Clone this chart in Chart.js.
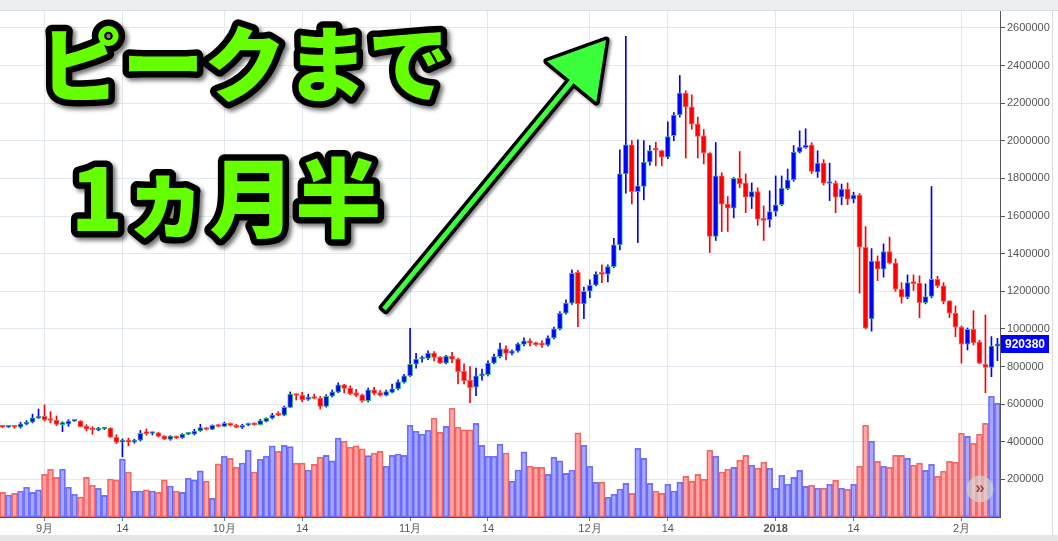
<!DOCTYPE html>
<html><head><meta charset="utf-8">
<script src="https://cdn.jsdelivr.net/npm/chart.js@4.4.1/dist/chart.umd.min.js"></script>
<style>html,body{margin:0;padding:0;background:#fff;overflow:hidden}#wrap{position:relative;width:1058px;height:541px}</style>
</head><body><div id="wrap"><canvas id="c" width="1058" height="541"></canvas></div>
<script>
// Daily candles from 2017-08-25 to 2018-02-07, prices in thousand JPY
const startDate = '2017-08-25';
const open = [482,478,481,478,494,504,526,535,521,514,491,494,509,510,483,468,462,468,473,424,398,401,398,408,446,444,448,430,413,430,420,440,440,457,473,466,489,482,498,488,476,488,498,491,508,525,542,541,583,653,647,625,638,631,588,642,664,703,686,660,650,618,676,661,647,662,681,716,750,812,840,843,871,850,818,855,839,775,727,690,750,757,818,853,894,869,881,918,936,925,920,914,952,1000,1083,1137,1301,1133,1200,1232,1293,1291,1331,1447,1824,1979,1730,1757,1887,1955,1948,1913,2027,2137,2254,2180,2089,2027,1935,1491,1814,1663,1642,1801,1775,1700,1730,1585,1580,1624,1660,1745,1793,1940,1963,1977,1833,1881,1773,1775,1700,1743,1690,1711,1434,1053,1360,1318,1411,1350,1211,1169,1250,1243,1140,1172,1264,1229,1149,1083,1009,919,998,931,812,795,908];
const high = [485,483,486,504,512,547,574,596,560,537,507,517,514,513,491,480,477,476,475,437,415,419,414,460,468,452,450,433,433,431,443,446,466,493,475,490,492,505,500,493,493,500,500,519,528,551,560,590,665,655,663,653,653,640,650,675,713,705,697,679,654,686,690,672,675,707,729,758,1003,870,856,884,879,853,860,876,845,814,800,792,787,830,866,924,910,889,926,952,947,930,936,963,1010,1092,1154,1314,1312,1222,1261,1303,1340,1340,1482,1952,2555,2001,2005,2001,1975,1993,1950,2101,2150,2347,2266,2244,2126,2060,1937,1991,1830,1704,1805,1943,1824,1776,1750,1654,1734,1813,1813,1850,1975,2053,2064,1990,1947,1900,1881,1787,1770,1776,1726,1720,1544,1427,1388,1452,1488,1372,1246,1287,1287,1282,1239,1757,1280,1246,1150,1122,1016,1005,1097,940,1074,959,950];
const low = [475,476,472,472,490,500,524,511,500,486,454,482,508,478,458,440,458,465,422,390,320,378,392,404,435,436,425,411,408,417,418,438,436,455,462,464,479,480,484,474,470,485,488,489,505,521,538,538,581,622,613,620,628,574,584,638,661,660,650,640,610,612,650,643,644,660,676,712,748,791,823,836,830,816,814,820,707,707,608,645,727,750,814,846,835,862,876,910,910,910,902,908,947,995,1078,1130,1012,1055,1166,1228,1246,1250,1325,1420,1722,1665,1459,1686,1870,1867,1867,1905,2000,2126,1908,2062,1908,1877,1406,1470,1517,1518,1590,1750,1618,1640,1550,1470,1541,1600,1655,1740,1785,1935,1960,1826,1805,1765,1682,1618,1660,1660,1670,1190,1000,988,1257,1275,1345,1200,1137,1161,1204,1060,1133,1165,1220,1133,1060,959,818,888,915,815,661,746,831];
const close = [478,481,477,495,504,527,537,516,513,492,494,510,511,480,467,464,469,472,424,396,400,398,408,445,443,448,428,414,430,419,441,443,457,475,465,488,481,498,487,476,487,498,490,512,525,542,540,583,653,646,622,637,630,588,642,665,702,683,656,646,618,676,657,647,667,681,718,750,812,839,845,871,848,818,855,838,773,725,688,750,761,818,853,894,869,883,920,936,924,916,914,952,1000,1083,1137,1296,1133,1200,1232,1292,1290,1331,1447,1824,1979,1730,1760,1887,1948,1950,1913,2023,2137,2254,2180,2089,2023,1935,1491,1814,1663,1642,1801,1771,1700,1730,1583,1577,1624,1660,1748,1793,1940,1967,1977,1837,1881,1775,1777,1700,1743,1690,1711,1434,1004,1360,1318,1411,1350,1211,1169,1246,1241,1140,1172,1264,1229,1146,1083,1009,919,998,927,818,795,908,920.38];
const volume = [131,117,126,138,158,131,144,227,254,211,254,158,121,105,211,169,153,115,202,197,308,239,138,138,144,138,131,197,165,138,131,206,197,245,191,99,282,323,312,264,287,355,239,307,324,378,349,381,374,286,286,250,280,318,328,298,419,403,371,378,363,326,339,349,270,328,335,328,488,456,440,461,525,450,482,578,477,463,463,498,381,323,323,387,340,191,250,346,270,264,264,227,318,298,232,250,447,381,270,185,185,105,121,149,179,126,365,312,179,138,126,174,138,185,216,191,227,200,355,323,239,254,264,303,328,275,259,291,259,153,222,174,211,248,163,169,153,153,174,195,153,147,174,270,488,403,296,270,264,328,328,312,275,286,248,280,216,243,296,291,445,429,392,440,498,642,605];
const xTickDates = ['2017-09-01','2017-09-14','2017-10-01','2017-10-14','2017-11-01','2017-11-14','2017-12-01','2017-12-14','2018-01-01','2018-01-14','2018-02-01'];
const xTickLabels = ['9月','14','10月','14','11月','14','12月','14','2018','14','2月'];
const yTickValues = [200,400,600,800,1000,1200,1400,1600,1800,2000,2200,2400,2600];
const titleLines = ['ピークまで','1ヵ月半'];

const dayMs = 86400000;
const dayIndex = d => Math.round((Date.parse(d) - Date.parse(startDate)) / dayMs);
const xTickIdx = xTickDates.map(dayIndex);
const idx = open.map((_, i) => i);
const up = idx.map(i => close[i] >= open[i]);
const FONT = "Arial, 'Liberation Sans', sans-serif";

const overlay = {
  id: 'overlay',
  beforeDraw(chart) {
    const ctx = chart.ctx;
    ctx.save();
    ctx.fillStyle = '#ffffff'; ctx.fillRect(0, 0, 1058, 541);
    ctx.fillStyle = '#eceff2'; ctx.fillRect(0, 0, 1058, 10);
    ctx.fillStyle = '#d9dee4'; ctx.fillRect(0, 10, 1058, 1);
    ctx.fillStyle = '#e6e6e6'; ctx.fillRect(0, 535, 1058, 6);
    ctx.fillStyle = '#dcdcdc'; ctx.fillRect(1052, 11, 1, 524);
    ctx.restore();
  },
  afterDraw(chart) {
    const ctx = chart.ctx;
    const ys = chart.scales.y;
    // last price label
    const last = close[close.length - 1];
    const py = Math.round(ys.getPixelForValue(last));
    ctx.save();
    ctx.fillStyle = '#0000ff';
    ctx.fillRect(1001, py - 9, 48, 18);
    ctx.fillStyle = '#ffffff';
    ctx.font = 'bold 12px ' + FONT;
    ctx.textAlign = 'left'; ctx.textBaseline = 'middle';
    ctx.fillText(String(Math.round(last * 1000)), 1005, py + 1);
    // scroll button
    ctx.beginPath(); ctx.arc(980, 489, 13, 0, Math.PI * 2);
    ctx.fillStyle = 'rgba(215,215,215,0.65)'; ctx.fill();
    ctx.strokeStyle = 'rgba(200,200,200,0.9)'; ctx.lineWidth = 1; ctx.stroke();
    ctx.fillStyle = '#a04848'; ctx.font = 'bold 17px ' + FONT;
    ctx.textAlign = 'center'; ctx.fillText('»', 980, 488);
    // arrow
    const tail = [384, 309], tip = [606, 40];
    const dx = tip[0] - tail[0], dy = tip[1] - tail[1], L = Math.hypot(dx, dy);
    const ux = dx / L, uy = dy / L, px = -uy, py2 = ux;
    const headLen = 54, halfW = 32, sh = 2.4;
    const bx = tip[0] - ux * headLen, by = tip[1] - uy * headLen;
    ctx.beginPath();
    ctx.moveTo(tail[0] + px * sh, tail[1] + py2 * sh);
    ctx.lineTo(bx + px * sh, by + py2 * sh);
    ctx.lineTo(bx + px * halfW, by + py2 * halfW);
    ctx.lineTo(tip[0], tip[1]);
    ctx.lineTo(bx - px * halfW, by - py2 * halfW);
    ctx.lineTo(bx - px * sh, by - py2 * sh);
    ctx.lineTo(tail[0] - px * sh, tail[1] - py2 * sh);
    ctx.closePath();
    ctx.lineJoin = 'round'; ctx.lineCap = 'round';
    ctx.shadowColor = 'rgba(0,0,0,0.45)'; ctx.shadowBlur = 3; ctx.shadowOffsetX = 2; ctx.shadowOffsetY = 2;
    ctx.strokeStyle = '#000'; ctx.lineWidth = 7; ctx.stroke();
    ctx.shadowColor = 'transparent';
    ctx.fillStyle = '#3cff3c'; ctx.fill();
    // title text
    const pos = [[245, 64, 82], [226, 198, 86]];
    titleLines.forEach((t, k) => {
      const [cx, cy, fs] = pos[k];
      ctx.font = "900 " + fs + "px 'Noto Sans CJK JP', sans-serif";
      ctx.textAlign = 'center'; ctx.textBaseline = 'middle';
      ctx.lineJoin = 'round';
      ctx.shadowColor = 'rgba(0,0,0,0.55)'; ctx.shadowBlur = 4; ctx.shadowOffsetX = 3; ctx.shadowOffsetY = 3;
      ctx.strokeStyle = '#000'; ctx.lineWidth = 13;
      ctx.strokeText(t, cx, cy);
      ctx.shadowColor = 'transparent';
      ctx.fillStyle = '#66ff00';
      ctx.fillText(t, cx, cy);
    });
    ctx.restore();
  }
};

new Chart(document.getElementById('c'), {
  type: 'bar',
  data: {
    datasets: [
      {
        label: 'body',
        data: idx.map(i => ({ x: i, y: [open[i], close[i]] })),
        backgroundColor: up.map(u => u ? '#0000ff' : '#ff0000'),
        borderColor: up.map(u => u ? '#3cb878' : '#f25a5a'),
        borderWidth: 1, borderSkipped: false, barThickness: 5, minBarLength: 2,
        grouped: false, order: 0, yAxisID: 'y'
      },
      {
        label: 'wick',
        data: idx.map(i => ({ x: i, y: [low[i], high[i]] })),
        backgroundColor: up.map(u => u ? '#0000ff' : '#ff0000'),
        borderWidth: 0, barThickness: 1, grouped: false, order: 1, yAxisID: 'y'
      },
      {
        label: 'volume',
        data: idx.map(i => ({ x: i, y: volume[i] })),
        backgroundColor: up.map(u => u ? 'rgba(80,80,255,0.5)' : 'rgba(255,80,80,0.5)'),
        borderColor: up.map(u => u ? 'rgba(90,90,255,0.85)' : 'rgba(240,80,80,0.85)'),
        borderWidth: 1, borderSkipped: false, barPercentage: 1, categoryPercentage: 1,
        grouped: false, order: 2, yAxisID: 'yv'
      }
    ]
  },
  options: {
    responsive: false, animation: false,
    layout: { padding: { top: 11, bottom: 6, left: 0, right: 0 } },
    plugins: { legend: { display: false }, tooltip: { enabled: false } },
    scales: {
      x: {
        type: 'linear', min: -0.425, max: 166.43, offset: false,
        afterBuildTicks: s => { s.ticks = xTickIdx.map(v => ({ value: v })); },
        afterFit: s => { s.height = 18; },
        ticks: {
          autoSkip: false, maxRotation: 0, padding: 1, color: '#555',
          callback: (v, i) => xTickLabels[i],
          font: c => ({ family: FONT, size: 11, weight: (xTickLabels[c.index] === '2018') ? 'bold' : 'normal' })
        },
        grid: { color: '#e2e9f0', tickLength: 4, tickColor: '#777', offset: false },
        border: { color: '#555', width: 1 }
      },
      y: {
        position: 'right', min: 0, max: 2690,
        afterBuildTicks: s => { s.ticks = yTickValues.map(v => ({ value: v })); },
        afterFit: s => { s.width = 58; },
        ticks: { padding: 2, color: '#555', font: { family: FONT, size: 11 }, callback: v => String(v * 1000) },
        grid: { color: '#e2e9f0', tickLength: 5, tickColor: '#555' },
        border: { color: '#555', width: 1 }
      },
      yv: { display: false, min: 0, max: 2690 }
    }
  },
  plugins: [overlay]
});
</script>
</body></html>
